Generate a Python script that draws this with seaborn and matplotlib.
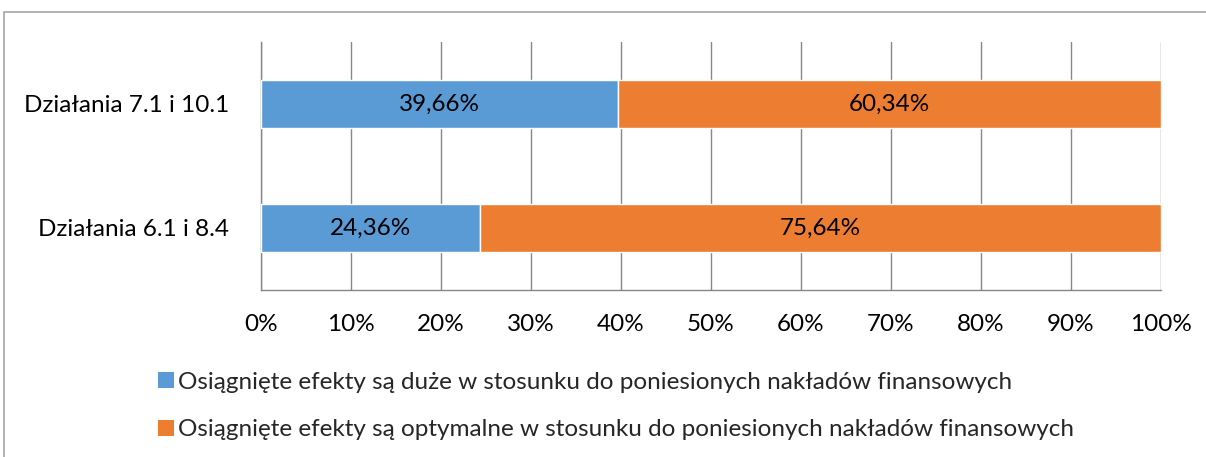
import matplotlib
matplotlib.use("Agg")
import matplotlib.pyplot as plt
from matplotlib.patches import Patch, Rectangle
import seaborn as sns
import pandas as pd

categories = ["Działania 7.1 i 10.1", "Działania 6.1 i 8.4"]
duze = [39.66, 24.36]
optymalne = [60.34, 75.64]
series_names = [
    "Osiągnięte efekty są duże w stosunku do poniesionych nakładów finansowych",
    "Osiągnięte efekty są optymalne w stosunku do poniesionych nakładów finansowych",
]
x_ticks = [0, 10, 20, 30, 40, 50, 60, 70, 80, 90, 100]

blue = "#5B9BD5"
orange = "#ED7D31"
grid_c = "#878787"

sns.set_theme(style="white")
plt.rcParams["font.family"] = ["Lato", "DejaVu Sans"]
fs = 17.5

df = pd.DataFrame({"kat": categories, "duze": duze, "opt": optymalne})

fig = plt.figure(figsize=(12.06, 4.57), dpi=100)
ax = fig.add_axes([261 / 1206, 1 - 290 / 457, 900 / 1206, 248 / 457])

sns.barplot(data=df, x="duze", y="kat", color=blue, width=0.39, saturation=1, ax=ax, zorder=3)
ax.barh(range(len(categories)), df["opt"], left=df["duze"], height=0.39, color=orange, zorder=3)

for i in range(len(categories)):
    ax.text(duze[i] / 2, i, f"{duze[i]:.2f}%".replace(".", ","), ha="center", va="center",
            fontsize=fs, color="black", zorder=4)
    ax.text(duze[i] + optymalne[i] / 2, i, f"{optymalne[i]:.2f}%".replace(".", ","), ha="center",
            va="center", fontsize=fs, color="black", zorder=4)

ax.set_xlim(0, 100)
ax.set_ylim(1.5, -0.5)
ax.set_xticks(x_ticks)
ax.set_xticklabels([f"{t}%" for t in x_ticks], fontsize=fs)
ax.set_yticks([0, 1])
ax.set_yticklabels(categories, fontsize=fs)
ax.set_xlabel("")
ax.set_ylabel("")
ax.xaxis.grid(True, color=grid_c, linewidth=1, zorder=0)
ax.yaxis.grid(False)
for s in ["top", "right"]:
    ax.spines[s].set_visible(False)
for s in ["left", "bottom"]:
    ax.spines[s].set_color(grid_c)
    ax.spines[s].set_linewidth(1)

# ticks at category boundaries on y, below on x
ax.set_yticks([-0.5, 0.5, 1.5], minor=True)
ax.tick_params(axis="y", which="major", length=0, pad=23)
ax.tick_params(axis="y", which="minor", length=6, color=grid_c, width=1, direction="out")
ax.tick_params(axis="x", which="major", length=6, color=grid_c, width=1, direction="out", pad=11)
ax.tick_params(colors="black", which="major", labelcolor="black")

handles = [Patch(facecolor=blue, edgecolor="none"), Patch(facecolor=orange, edgecolor="none")]
fig.legend(handles, series_names, loc="upper left", bbox_to_anchor=(148 / 1206, 1 - 362 / 457),
           frameon=False, fontsize=fs, handlelength=0.65, handleheight=0.65, handletextpad=0.2,
           labelspacing=1.1, borderaxespad=0)

# chart area frame
fig.patches.append(Rectangle((4 / 1206, -0.1), 1.2, 1 - 12 / 457 + 0.1, transform=fig.transFigure,
                             fill=False, edgecolor="#A6A6A6", linewidth=1.2))

fig.savefig("out.png", dpi=100)
